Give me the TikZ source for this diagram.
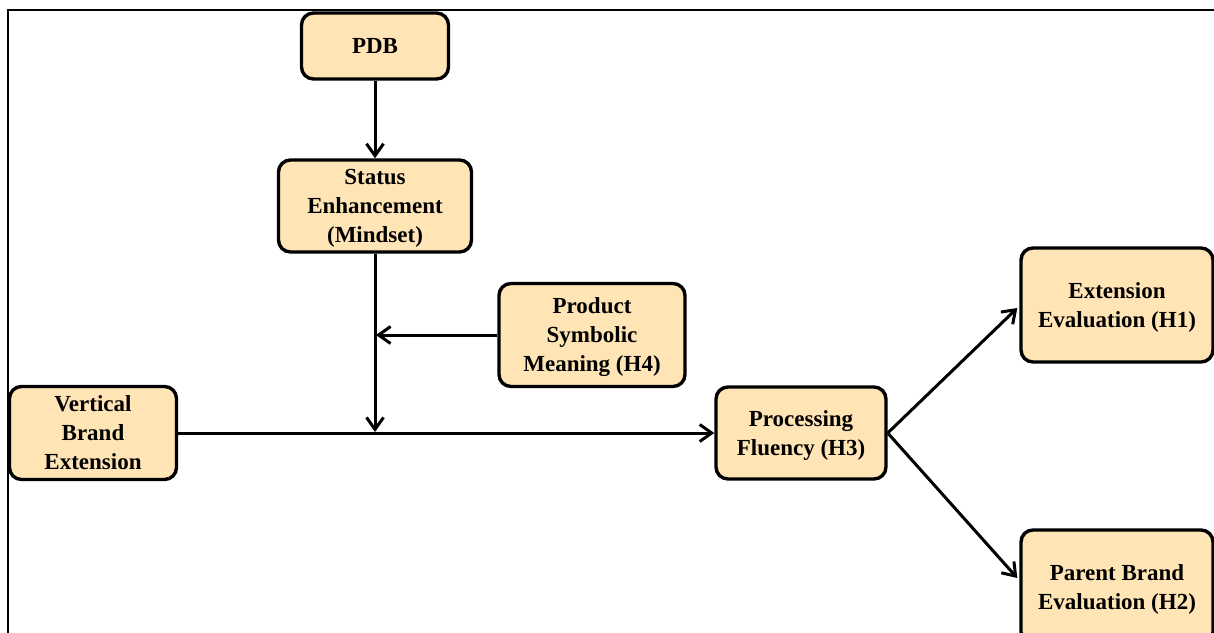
\documentclass[tikz,border=0pt]{standalone}
\usepackage{fontspec}
\setmainfont{Liberation Serif}
\usetikzlibrary{arrows.meta,calc}
\definecolor{boxfill}{HTML}{FFE5B6}
\begin{document}
\begin{tikzpicture}[x=0.5pt,y=-0.5pt,
  box/.style={draw=black, line width=1.7pt, fill=boxfill, rounded corners=6pt,
    align=center, inner sep=0pt, text depth=0pt, font=\fontsize{11.5}{14.5}\selectfont\bfseries},
  conn/.style={line width=1.5pt, -{Straight Barb[length=6pt,width=8.5pt,line width=1.5pt]}}]
\useasboundingbox (0,0) rectangle (1214,632);
\draw[line width=1pt] (8,10) rectangle (1240,660);
\node[box, minimum width=73.5pt, minimum height=33pt] (pdb) at (375,46) {PDB};
\node[box, minimum width=96.5pt, minimum height=46pt] (status) at (375,206) {Status\\Enhancement\\(Mindset)};
\node[box, minimum width=93pt, minimum height=51.5pt] (psm) at (592,335) {Product\\Symbolic\\Meaning (H4)};
\node[box, minimum width=83.5pt, minimum height=46.5pt] (vbe) at (93,433) {Vertical\\Brand\\Extension};
\node[box, minimum width=85pt, minimum height=46pt] (pf) at (801,433) {Processing\\Fluency (H3)};
\node[box, minimum width=96pt, minimum height=57pt] (ee) at (1117,305) {Extension\\Evaluation (H1)};
\node[box, minimum width=96pt, minimum height=57pt] (pbe) at (1117,587) {Parent Brand\\Evaluation (H2)};
\coordinate (j1) at (375,432);
\coordinate (j2) at (376,335);
\draw[conn] (pdb) -- (status);
\draw[conn] (status) -- (j1);
\draw[conn] (psm.west) -- (j2);
\draw[conn] (vbe.east) -- (pf.west);
\draw[conn] (pf.east) -- ($(ee.west)+(-2,3)$);
\draw[conn] (pf.east) -- ($(pbe.west)+(-2,-9)$);
\end{tikzpicture}
\end{document}
